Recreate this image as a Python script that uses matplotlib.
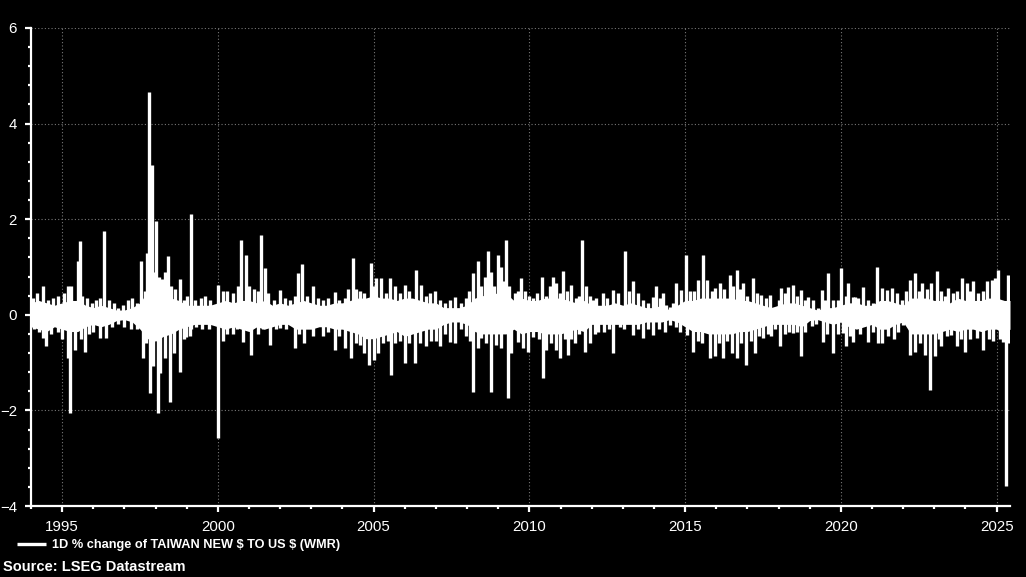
import matplotlib
matplotlib.use("Agg")
import matplotlib.pyplot as plt
from matplotlib.ticker import MultipleLocator

# values (decimal years, daily % change)
# dense core of the series, quarterly
band_years = [1994.0, 1994.25, 1994.5, 1994.75, 1995.0, 1995.25, 1995.5, 1995.75, 1996.0, 1996.25,
              1996.5, 1996.75, 1997.0, 1997.25, 1997.5, 1997.75, 1998.0, 1998.25, 1998.5, 1998.75,
              1999.0, 1999.25, 1999.5, 1999.75, 2000.0, 2000.25, 2000.5, 2000.75, 2001.0, 2001.25,
              2001.5, 2001.75, 2002.0, 2002.25, 2002.5, 2002.75, 2003.0, 2003.25, 2003.5, 2003.75,
              2004.0, 2004.25, 2004.5, 2004.75, 2005.0, 2005.25, 2005.5, 2005.75, 2006.0, 2006.25,
              2006.5, 2006.75, 2007.0, 2007.25, 2007.5, 2007.75, 2008.0, 2008.25, 2008.5, 2008.75,
              2009.0, 2009.25, 2009.5, 2009.75, 2010.0, 2010.25, 2010.5, 2010.75, 2011.0, 2011.25,
              2011.5, 2011.75, 2012.0, 2012.25, 2012.5, 2012.75, 2013.0, 2013.25, 2013.5, 2013.75,
              2014.0, 2014.25, 2014.5, 2014.75, 2015.0, 2015.25, 2015.5, 2015.75, 2016.0, 2016.25,
              2016.5, 2016.75, 2017.0, 2017.25, 2017.5, 2017.75, 2018.0, 2018.25, 2018.5, 2018.75,
              2019.0, 2019.25, 2019.5, 2019.75, 2020.0, 2020.25, 2020.5, 2020.75, 2021.0, 2021.25,
              2021.5, 2021.75, 2022.0, 2022.25, 2022.5, 2022.75, 2023.0, 2023.25, 2023.5, 2023.75,
              2024.0, 2024.25, 2024.5, 2024.75, 2025.0, 2025.25, 2025.43]
band_hi = [0.25, 0.3, 0.25, 0.2, 0.25, 0.3, 0.3, 0.2, 0.15, 0.2,
           0.15, 0.1, 0.1, 0.15, 0.25, 0.5, 0.55, 0.45, 0.35, 0.3,
           0.2, 0.2, 0.2, 0.2, 0.25, 0.3, 0.25, 0.3, 0.3, 0.25,
           0.3, 0.2, 0.25, 0.2, 0.25, 0.3, 0.25, 0.2, 0.2, 0.25,
           0.25, 0.3, 0.35, 0.35, 0.4, 0.35, 0.35, 0.3, 0.35, 0.35,
           0.3, 0.25, 0.25, 0.15, 0.15, 0.15, 0.2, 0.35, 0.4, 0.45,
           0.45, 0.45, 0.3, 0.35, 0.3, 0.3, 0.35, 0.35, 0.35, 0.3,
           0.25, 0.3, 0.2, 0.2, 0.2, 0.25, 0.2, 0.25, 0.2, 0.15,
           0.15, 0.2, 0.1, 0.2, 0.3, 0.3, 0.35, 0.35, 0.35, 0.35,
           0.35, 0.3, 0.3, 0.25, 0.2, 0.15, 0.2, 0.25, 0.25, 0.2,
           0.15, 0.1, 0.15, 0.15, 0.2, 0.25, 0.25, 0.2, 0.2, 0.3,
           0.3, 0.25, 0.2, 0.35, 0.35, 0.35, 0.3, 0.3, 0.25, 0.35,
           0.3, 0.3, 0.3, 0.35, 0.35, 0.3, 0.3]
band_lo = [-0.25, -0.3, -0.35, -0.25, -0.3, -0.35, -0.35, -0.25, -0.2, -0.25,
           -0.2, -0.12, -0.1, -0.15, -0.3, -0.5, -0.55, -0.45, -0.4, -0.3,
           -0.25, -0.2, -0.2, -0.2, -0.25, -0.3, -0.25, -0.3, -0.35, -0.25,
           -0.3, -0.25, -0.2, -0.2, -0.3, -0.3, -0.3, -0.25, -0.25, -0.3,
           -0.3, -0.35, -0.4, -0.5, -0.5, -0.45, -0.4, -0.35, -0.45, -0.4,
           -0.35, -0.3, -0.3, -0.2, -0.15, -0.15, -0.2, -0.35, -0.4, -0.4,
           -0.4, -0.4, -0.3, -0.4, -0.35, -0.35, -0.4, -0.4, -0.4, -0.35,
           -0.3, -0.35, -0.2, -0.2, -0.2, -0.2, -0.2, -0.2, -0.2, -0.15,
           -0.15, -0.15, -0.1, -0.15, -0.25, -0.35, -0.35, -0.4, -0.4, -0.4,
           -0.4, -0.35, -0.35, -0.3, -0.25, -0.2, -0.2, -0.2, -0.2, -0.25,
           -0.12, -0.1, -0.15, -0.2, -0.15, -0.25, -0.3, -0.25, -0.2, -0.3,
           -0.3, -0.2, -0.15, -0.4, -0.4, -0.4, -0.4, -0.35, -0.3, -0.35,
           -0.3, -0.3, -0.35, -0.3, -0.3, -0.4, -0.3]

# individual moves that stick out of the core
up_years = [1994.05, 1994.2, 1994.39, 1994.55, 1994.7, 1994.87, 1995.05, 1995.19, 1995.29, 1995.51,
            1995.56, 1995.65, 1995.8, 1995.95, 1996.1, 1996.2, 1996.36, 1996.5, 1996.65, 1996.8,
            1996.95, 1997.1, 1997.25, 1997.4, 1997.54, 1997.65, 1997.72, 1997.79, 1997.88, 1997.95,
            1998.0, 1998.1, 1998.2, 1998.3, 1998.4, 1998.5, 1998.62, 1998.77, 1998.9, 1999.0,
            1999.15, 1999.25, 1999.45, 1999.6, 1999.75, 2000.0, 2000.16, 2000.3, 2000.48, 2000.65,
            2000.75, 2000.89, 2001.0, 2001.15, 2001.28, 2001.39, 2001.5, 2001.62, 2001.8, 2001.98,
            2002.15, 2002.3, 2002.46, 2002.57, 2002.7, 2002.85, 2003.05, 2003.2, 2003.37, 2003.55,
            2003.75, 2003.9, 2004.07, 2004.18, 2004.34, 2004.44, 2004.55, 2004.7, 2004.91, 2005.0,
            2005.09, 2005.25, 2005.4, 2005.52, 2005.68, 2005.85, 2006.0, 2006.15, 2006.37, 2006.53,
            2006.69, 2006.8, 2006.96, 2007.12, 2007.28, 2007.44, 2007.6, 2007.82, 2007.95, 2008.05,
            2008.19, 2008.35, 2008.46, 2008.57, 2008.67, 2008.78, 2008.88, 2009.0, 2009.1, 2009.2,
            2009.26, 2009.35, 2009.53, 2009.64, 2009.74, 2009.85, 2010.0, 2010.12, 2010.25, 2010.39,
            2010.55, 2010.65, 2010.76, 2010.87, 2010.98, 2011.08, 2011.2, 2011.35, 2011.5, 2011.6,
            2011.7, 2011.83, 2011.94, 2012.04, 2012.15, 2012.37, 2012.5, 2012.69, 2012.85, 2013.06,
            2013.2, 2013.33, 2013.49, 2013.65, 2013.81, 2013.97, 2014.08, 2014.2, 2014.29, 2014.4,
            2014.51, 2014.6, 2014.72, 2014.88, 2015.02, 2015.15, 2015.3, 2015.42, 2015.58, 2015.69,
            2015.85, 2015.95, 2016.11, 2016.25, 2016.44, 2016.55, 2016.65, 2016.75, 2016.86, 2017.0,
            2017.18, 2017.3, 2017.45, 2017.6, 2017.72, 2017.88, 2018.0, 2018.09, 2018.2, 2018.31,
            2018.47, 2018.6, 2018.73, 2018.85, 2018.95, 2019.1, 2019.27, 2019.38, 2019.5, 2019.59,
            2019.75, 2019.92, 2020.02, 2020.15, 2020.24, 2020.4, 2020.45, 2020.56, 2020.72, 2020.88,
            2021.04, 2021.15, 2021.31, 2021.47, 2021.63, 2021.8, 2021.95, 2022.1, 2022.22, 2022.38,
            2022.5, 2022.59, 2022.75, 2022.91, 2023.1, 2023.23, 2023.35, 2023.45, 2023.6, 2023.72,
            2023.88, 2024.04, 2024.15, 2024.25, 2024.4, 2024.57, 2024.68, 2024.84, 2024.95, 2025.05,
            2025.21, 2025.38]
up_vals = [0.35, 0.45, 0.6, 0.3, 0.35, 0.4, 0.45, 0.6, 0.6, 1.12,
           1.55, 0.4, 0.35, 0.25, 0.3, 0.35, 1.76, 0.3, 0.25, 0.15,
           0.2, 0.3, 0.35, 0.25, 1.12, 0.5, 1.3, 4.67, 3.14, 0.9,
           1.96, 0.8, 0.75, 0.9, 1.22, 0.6, 0.55, 0.75, 0.3, 0.4,
           2.11, 0.3, 0.35, 0.4, 0.3, 0.63, 0.5, 0.5, 0.45, 0.6,
           1.57, 1.26, 0.6, 0.55, 0.5, 1.66, 0.98, 0.45, 0.3, 0.52,
           0.35, 0.3, 0.4, 0.87, 1.06, 0.4, 0.6, 0.35, 0.3, 0.35,
           0.47, 0.3, 0.35, 0.55, 1.19, 0.55, 0.5, 0.45, 1.08, 0.6,
           0.77, 0.77, 0.45, 0.77, 0.6, 0.45, 0.63, 0.5, 0.94, 0.63,
           0.4, 0.45, 0.49, 0.3, 0.25, 0.3, 0.38, 0.24, 0.35, 0.5,
           0.87, 1.12, 0.6, 0.8, 1.33, 0.9, 0.6, 1.26, 1.0, 0.7,
           1.57, 0.6, 0.45, 0.5, 0.77, 0.49, 0.4, 0.35, 0.45, 0.8,
           0.4, 0.6, 0.8, 0.66, 0.45, 0.91, 0.5, 0.63, 0.35, 0.4,
           1.57, 0.6, 0.4, 0.31, 0.35, 0.45, 0.35, 0.52, 0.45, 1.33,
           0.5, 0.7, 0.45, 0.3, 0.24, 0.38, 0.6, 0.35, 0.45, 0.2,
           0.17, 0.25, 0.66, 0.52, 1.26, 0.49, 0.5, 0.73, 1.26, 0.73,
           0.5, 0.56, 0.66, 0.55, 0.84, 0.6, 0.94, 0.55, 0.66, 0.4,
           0.77, 0.45, 0.42, 0.35, 0.42, 0.14, 0.3, 0.56, 0.45, 0.59,
           0.63, 0.4, 0.52, 0.3, 0.38, 0.3, 0.14, 0.52, 0.3, 0.87,
           0.3, 0.31, 0.98, 0.4, 0.66, 0.38, 0.38, 0.35, 0.59, 0.3,
           0.25, 1.01, 0.56, 0.52, 0.56, 0.45, 0.31, 0.5, 0.73, 0.87,
           0.5, 0.66, 0.55, 0.66, 0.91, 0.5, 0.4, 0.56, 0.45, 0.5,
           0.77, 0.66, 0.5, 0.7, 0.45, 0.5, 0.7, 0.73, 0.77, 0.94,
           0.28, 0.84]

down_years = [1994.1, 1994.25, 1994.39, 1994.49, 1994.65, 1994.87, 1995.0, 1995.19, 1995.24, 1995.4,
              1995.6, 1995.72, 1995.85, 1996.0, 1996.2, 1996.42, 1996.6, 1996.8, 1997.0, 1997.2,
              1997.4, 1997.6, 1997.7, 1997.81, 1997.92, 1998.08, 1998.13, 1998.3, 1998.45, 1998.6,
              1998.77, 1998.9, 1998.99, 1999.1, 1999.15, 1999.3, 1999.5, 1999.7, 2000.0, 2000.16,
              2000.3, 2000.48, 2000.6, 2000.8, 2001.07, 2001.28, 2001.45, 2001.66, 2001.85, 2002.0,
              2002.2, 2002.46, 2002.6, 2002.78, 2003.05, 2003.37, 2003.55, 2003.75, 2003.9, 2004.07,
              2004.28, 2004.44, 2004.55, 2004.7, 2004.85, 2005.0, 2005.15, 2005.3, 2005.45, 2005.57,
              2005.7, 2005.85, 2006.0, 2006.15, 2006.32, 2006.5, 2006.69, 2006.85, 2007.0, 2007.12,
              2007.3, 2007.44, 2007.62, 2007.8, 2007.95, 2008.1, 2008.19, 2008.35, 2008.46, 2008.6,
              2008.78, 2008.94, 2009.1, 2009.32, 2009.42, 2009.64, 2009.8, 2009.96, 2010.12, 2010.3,
              2010.44, 2010.55, 2010.7, 2010.87, 2010.98, 2011.15, 2011.24, 2011.35, 2011.46, 2011.6,
              2011.78, 2011.94, 2012.1, 2012.21, 2012.4, 2012.55, 2012.69, 2012.9, 2013.05, 2013.33,
              2013.5, 2013.65, 2013.8, 2013.97, 2014.15, 2014.35, 2014.51, 2014.7, 2014.85, 2015.05,
              2015.26, 2015.4, 2015.55, 2015.79, 2015.95, 2016.1, 2016.22, 2016.35, 2016.49, 2016.65,
              2016.8, 2016.97, 2017.1, 2017.24, 2017.38, 2017.5, 2017.65, 2017.77, 2017.9, 2018.04,
              2018.2, 2018.35, 2018.47, 2018.6, 2018.73, 2018.85, 2019.06, 2019.2, 2019.43, 2019.55,
              2019.75, 2019.9, 2020.08, 2020.18, 2020.3, 2020.4, 2020.6, 2020.88, 2021.04, 2021.2,
              2021.31, 2021.5, 2021.7, 2021.85, 2022.0, 2022.22, 2022.38, 2022.55, 2022.7, 2022.86,
              2023.02, 2023.15, 2023.23, 2023.4, 2023.55, 2023.72, 2023.85, 2023.98, 2024.15, 2024.36,
              2024.57, 2024.75, 2024.9, 2025.1, 2025.21, 2025.3, 2025.36]
down_vals = [-0.3, -0.35, -0.49, -0.66, -0.4, -0.35, -0.5, -0.9, -2.06, -0.73,
             -0.5, -0.77, -0.4, -0.35, -0.49, -0.49, -0.25, -0.2, -0.25, -0.3,
             -0.3, -0.9, -0.6, -1.64, -1.08, -2.06, -1.22, -0.9, -1.82, -0.8,
             -1.19, -0.5, -0.46, -0.45, -0.3, -0.25, -0.3, -0.3, -2.58, -0.55,
             -0.4, -0.4, -0.3, -0.56, -0.84, -0.4, -0.3, -0.63, -0.3, -0.28,
             -0.3, -0.7, -0.4, -0.6, -0.45, -0.45, -0.35, -0.73, -0.45, -0.7,
             -0.91, -0.6, -0.63, -0.8, -1.05, -0.95, -0.8, -0.6, -0.55, -1.26,
             -0.6, -0.55, -1.0, -0.6, -1.0, -0.6, -0.66, -0.55, -0.55, -0.66,
             -0.4, -0.56, -0.6, -0.3, -0.45, -0.55, -1.61, -0.7, -0.49, -0.6,
             -1.61, -0.63, -0.7, -1.75, -0.8, -0.56, -0.7, -0.77, -0.46, -0.5,
             -1.33, -0.73, -0.6, -0.73, -0.91, -0.5, -0.84, -0.5, -0.6, -0.4,
             -0.77, -0.6, -0.4, -0.35, -0.35, -0.3, -0.8, -0.25, -0.3, -0.42,
             -0.3, -0.49, -0.3, -0.42, -0.3, -0.35, -0.21, -0.25, -0.35, -0.42,
             -0.77, -0.55, -0.6, -0.91, -0.87, -0.6, -0.91, -0.55, -0.8, -0.91,
             -0.6, -1.05, -0.55, -0.8, -0.45, -0.49, -0.4, -0.45, -0.3, -0.66,
             -0.4, -0.35, -0.38, -0.35, -0.87, -0.35, -0.24, -0.2, -0.56, -0.4,
             -0.8, -0.4, -0.38, -0.66, -0.45, -0.56, -0.4, -0.56, -0.35, -0.6,
             -0.59, -0.45, -0.5, -0.35, -0.21, -0.84, -0.77, -0.6, -0.84, -1.57,
             -0.87, -0.5, -0.66, -0.45, -0.42, -0.66, -0.5, -0.77, -0.5, -0.49,
             -0.73, -0.5, -0.55, -0.5, -0.56, -3.58, -0.6]

series_label = r"1D % change of TAIWAN NEW \$ TO US \$ (WMR)"
source_text = "Source: LSEG Datastream"

plt.rcParams['font.family'] = ['Liberation Sans', 'DejaVu Sans']

fig = plt.figure(figsize=(10.26, 5.77), dpi=100, facecolor='black')
ax = fig.add_axes([0.0302, 0.123, 0.9542, 0.8285], facecolor='black')

ax.fill_between(band_years, band_lo, band_hi, color='white', lw=0, zorder=3)
line = ax.vlines(up_years, 0, up_vals, color='white', lw=2.4, zorder=3, label=series_label)
ax.vlines(down_years, 0, down_vals, color='white', lw=2.4, zorder=3)

ax.set_xlim(1994.0, 2025.43)
ax.set_ylim(-4, 6)
ax.xaxis.set_major_locator(MultipleLocator(5))
ax.xaxis.set_minor_locator(MultipleLocator(1))
ax.yaxis.set_major_locator(MultipleLocator(2))
ax.yaxis.set_minor_locator(MultipleLocator(0.4))
ax.xaxis.set_major_formatter(plt.FuncFormatter(lambda v, p: f"{int(round(v))}"))

ax.grid(True, which='major', color='#777777', linestyle=(0, (1, 2)), lw=0.8, zorder=1)

for s in ['top', 'right']:
    ax.spines[s].set_visible(False)
for s in ['left', 'bottom']:
    ax.spines[s].set_color('white')
    ax.spines[s].set_linewidth(1.6)

ax.tick_params(which='major', colors='white', labelsize=10.8, length=4, width=1.6, pad=6)
ax.tick_params(which='minor', colors='white', length=2, width=1.6)

fig.legend(handles=[line], labels=[series_label], loc='center left',
           bbox_to_anchor=(0.005, 0.055), frameon=False, handlelength=2.3,
           handletextpad=0.5, prop={'size': 9.2, 'weight': 'bold'}, labelcolor='white')
fig.text(0.003, 0.017, source_text, color='white', fontsize=10.5, fontweight='bold', va='center')

fig.savefig('out.png', dpi=100, facecolor='black')
